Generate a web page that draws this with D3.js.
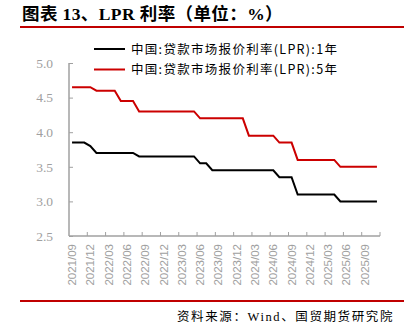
<!DOCTYPE html>
<html><head><meta charset="utf-8">
<script src="https://cdn.jsdelivr.net/npm/d3@7"></script>
<style>body{margin:0;background:#fff}</style>
</head><body>
<script>
const months = [];
for (let yy = 2021, m = 9; yy < 2025 || (yy === 2025 && m <= 11); ) {
  months.push(yy + "/" + String(m).padStart(2, "0"));
  m++; if (m > 12) { m = 1; yy++; }
}
const lpr1y = [3.85,3.85,3.85,3.80, 3.70,3.70,3.70,3.70,3.70,3.70,3.70,3.65,3.65,3.65,3.65,3.65,
  3.65,3.65,3.65,3.65,3.65,3.55,3.55,3.45,3.45,3.45,3.45,3.45,
  3.45,3.45,3.45,3.45,3.45,3.45,3.35,3.35,3.35,3.10,3.10,3.10,
  3.10,3.10,3.10,3.10,3.00,3.00,3.00,3.00,3.00,3.00,3.00];
const lpr5y = [4.65,4.65,4.65,4.65, 4.60,4.60,4.60,4.60,4.45,4.45,4.45,4.30,4.30,4.30,4.30,4.30,
  4.30,4.30,4.30,4.30,4.30,4.20,4.20,4.20,4.20,4.20,4.20,4.20,
  4.20,3.95,3.95,3.95,3.95,3.95,3.85,3.85,3.85,3.60,3.60,3.60,
  3.60,3.60,3.60,3.60,3.50,3.50,3.50,3.50,3.50,3.50,3.50];
const seriesNames = ["中国:贷款市场报价利率(LPR):1年", "中国:贷款市场报价利率(LPR):5年"];
const seriesColors = ["#000000", "#cc0000"];
const yTicks = [2.5, 3.0, 3.5, 4.0, 4.5, 5.0];
const xLabels = months.filter((d, i) => i % 3 === 0);

const W = 408, H = 334;
const svg = d3.select("body").append("svg").attr("width", W).attr("height", H);
const pL = 69, pR = 380, pT = 63, pB = 236;

const x = d3.scaleBand().domain(months).range([pL, pR]);
const y = d3.scaleLinear().domain([2.5, 5.0]).range([pB, pT]);
const grey = "#a0a0a0";

// title
svg.append("text").attr("x", 22).attr("y", 20)
  .attr("font-family", "'Liberation Serif','Noto Sans CJK SC',serif")
  .attr("font-weight", "bold").attr("font-size", 17.5).attr("letter-spacing", 0.4).attr("fill", "#000")
  .text("图表 13、LPR 利率（单位：%）");
svg.append("line").attr("x1", 20).attr("x2", 404).attr("y1", 27).attr("y2", 27)
  .attr("stroke", "#c00000").attr("stroke-width", 2);
svg.append("line").attr("x1", 20).attr("x2", 404).attr("y1", 301).attr("y2", 301)
  .attr("stroke", "#c00000").attr("stroke-width", 2);
svg.append("text").attr("x", 394).attr("y", 321).attr("text-anchor", "end")
  .attr("font-family", "'Liberation Serif','Noto Sans CJK SC',serif")
  .attr("font-size", 12.5).attr("letter-spacing", 1.6).attr("fill", "#000")
  .text("资料来源：Wind、国贸期货研究院");

// y axis
const yAxis = svg.append("g").attr("transform", `translate(${pL},0)`)
  .call(d3.axisRight(y).tickValues(yTicks).tickSize(4).tickFormat(d3.format(".1f")));
yAxis.select(".domain").attr("stroke", grey).attr("stroke-width", 1.5).attr("d", `M0,${pT}V${pB}`);
yAxis.selectAll(".tick line").attr("stroke", grey);
yAxis.selectAll(".tick text").attr("x", -16).attr("text-anchor", "end")
  .attr("font-family", "'Liberation Serif',serif").attr("font-size", 13.5).attr("fill", grey);

// x axis
const xg = svg.append("g").attr("transform", `translate(0,${pB})`);
xg.append("line").attr("x1", pL).attr("x2", pR).attr("y1", 0).attr("y2", 0)
  .attr("stroke", grey).attr("stroke-width", 1.5);
const tickPos = [];
for (let i = 3; i < months.length; i += 3) tickPos.push(x(months[i]));
tickPos.push(pR);
xg.selectAll("line.t").data(tickPos).join("line").attr("class", "t")
  .attr("x1", d => d).attr("x2", d => d).attr("y1", 0).attr("y2", -4).attr("stroke", grey);
xg.selectAll("text.l").data(xLabels).join("text").attr("class", "l")
  .attr("transform", d => `translate(${x(d) + x.bandwidth() / 2 + 4},8) rotate(-90)`)
  .attr("text-anchor", "end")
  .attr("font-family", "'Liberation Sans',Arial,sans-serif").attr("font-size", 11.5)
  .attr("fill", grey).text(d => d);

// lines
const line = d3.line().x((d, i) => x(months[i]) + x.bandwidth() / 2).y(d => y(d));
[lpr1y, lpr5y].forEach((s, k) => {
  svg.append("path").datum(s).attr("d", line).attr("fill", "none")
    .attr("stroke", seriesColors[k]).attr("stroke-width", 2);
});

// legend
seriesNames.forEach((n, k) => {
  const ly = 49 + k * 20.5;
  svg.append("line").attr("x1", 94).attr("x2", 125).attr("y1", ly).attr("y2", ly)
    .attr("stroke", seriesColors[k]).attr("stroke-width", 2);
  svg.append("text").attr("x", 131).attr("y", ly + 4.5)
    .attr("font-family", "'Noto Sans CJK SC',sans-serif").attr("font-size", 12.5)
    .attr("letter-spacing", 1.3).attr("fill", "#000")
    .text(n);
});
</script>
</body></html>
